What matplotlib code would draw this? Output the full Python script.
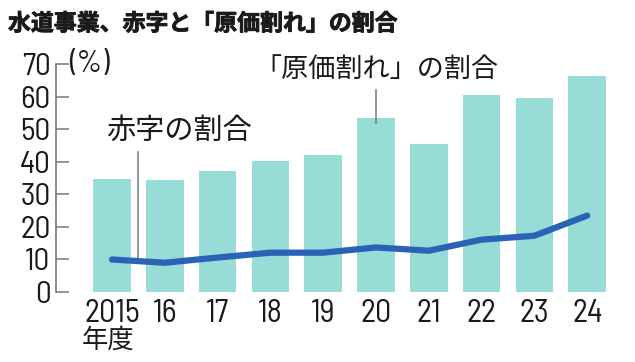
"""水道事業、赤字と「原価割れ」の割合 -- bar + line chart."""

import matplotlib

matplotlib.use("Agg")
import matplotlib.patheffects as pe  # noqa: E402
import matplotlib.pyplot as plt  # noqa: E402
import matplotlib.transforms as mtransforms  # noqa: E402
import numpy as np  # noqa: E402

# data (percent), fiscal years 2015-2024
years = ["2015", "16", "17", "18", "19", "20", "21", "22", "23", "24"]
genka_ware = [34.7, 34.4, 37.2, 40.2, 42.0, 53.5, 45.4, 60.6, 59.4, 66.2]  # 原価割れ
akaji = [9.9, 8.9, 10.5, 12.0, 12.0, 13.6, 12.6, 16.0, 17.2, 23.4]      # 赤字
y_ticks = [0, 10, 20, 30, 40, 50, 60, 70]

BAR = "#98dcd7"
LINE = "#2a62b6"
GRAY = "#777777"
INK = "#1a1a1a"
JP = ["Noto Sans CJK JP", "DejaVu Sans"]
NUM = ["Barlow Semi Condensed", "DejaVu Sans"]

W, H = 635, 362
fig = plt.figure(figsize=(W / 100, H / 100), dpi=100)
ax = fig.add_axes([55.5 / W, (H - 291.7) / H, (W - 55.5) / W, 227.7 / H])

x = np.arange(len(years))
ax.bar(x, genka_ware, width=0.714, color=BAR, zorder=1)
ax.plot(x, akaji, color=LINE, lw=4.5, solid_capstyle="round",
        solid_joinstyle="round", zorder=3)

ax.set_xlim(-(112 - 55.5) / 52.8, (W - 112) / 52.8)
ax.set_ylim(0, 70)
for side in ("top", "right", "bottom"):
    ax.spines[side].set_visible(False)
ax.spines["left"].set_color(GRAY)
ax.spines["left"].set_linewidth(1.2)

ax.set_yticks(y_ticks)
ax.set_yticklabels([str(v) for v in y_ticks], family=NUM, fontsize=22.5,
                   color=INK)
ax.tick_params(axis="y", direction="in", length=9.5, width=1.1, color=GRAY, pad=3.6)
ax.set_xticks(x)
ax.set_xticklabels(years, family=NUM, fontsize=23, color=INK)
ax.tick_params(axis="x", length=0, pad=5.5)

# unit + fiscal-year labels
fig.text(69 / W, 1 - 64 / H, "(%)", family=NUM, fontsize=22.5, color=INK,
         ha="left", va="center")
trans = mtransforms.blended_transform_factory(ax.transData, ax.transAxes)
ax.text(x[0] - 0.08, (291.7 - 340) / 227.7, "年度", family=JP, fontsize=19,
        color=INK, ha="center", va="center", transform=trans)

# series labels with leader lines
lead_x = 0.487
ax.plot([lead_x, lead_x], [43.0, np.interp(lead_x, x, akaji)], color=GRAY,
        lw=1.1, zorder=2)
ax.text(1.27, 49.6, "赤字の割合", family=JP, fontsize=21, color=INK,
        ha="center", va="center")
ax.plot([x[5], x[5]], [62.0, genka_ware[5] - 1.5], color=GRAY, lw=1.1,
        zorder=2, clip_on=False)
ax.text(x[5], 68.2, "「原価割れ」の割合", family=JP, fontsize=19.5, color=INK,
        ha="center", va="center", clip_on=False)

fig.text(8 / W, 1 - 24 / H, "水道事業、赤字と「原価割れ」の割合", family=JP,
         fontsize=16.5, fontweight="bold", color=INK, ha="left", va="center",
         path_effects=[pe.withStroke(linewidth=0.6, foreground=INK)])

fig.savefig("out.png", dpi=100)
